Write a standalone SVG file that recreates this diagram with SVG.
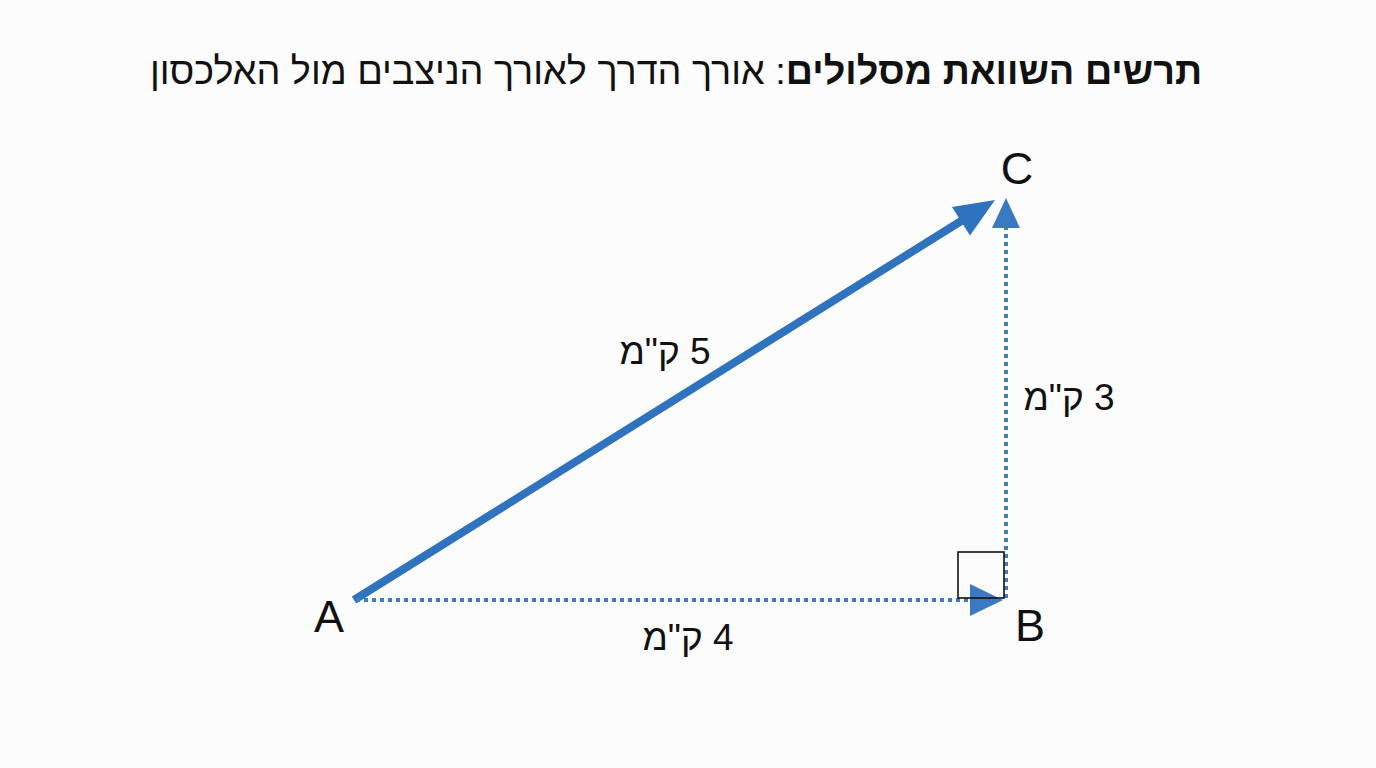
<svg xmlns="http://www.w3.org/2000/svg" width="1376" height="768" viewBox="0 0 1376 768">
<defs>
<style>
.lbl{font-family:"Liberation Sans",Arial,sans-serif;fill:#111;}
.pt{font-size:45px;text-anchor:middle;}
.km{font-size:37px;text-anchor:middle;}
.dot{stroke:#3f7cc2;stroke-width:4;stroke-dasharray:4 4;fill:none;}
.head{fill:#3a78c2;}
</style>
</defs>
<rect width="1376" height="768" fill="#fcfcfc"/>
<g id="title">
<text class="lbl" x="676" y="84" font-size="37.8" text-anchor="middle" direction="rtl"><tspan font-weight="bold">תרשים השוואת מסלולים</tspan>: אורך הדרך לאורך הניצבים מול האלכסון</text>
</g>
<g id="connectors">
<g id="hyp">
<line x1="354" y1="600" x2="966" y2="218" stroke="#2f72be" stroke-width="8"/>
<polygon points="995,200 952,207 970,235.6" fill="#2f72be"/>
</g>
<g id="leg-bc">
<line class="dot" x1="1006" y1="598" x2="1006" y2="228"/>
<polygon class="head" points="1006,198 992,228 1020,228"/>
</g>
<g id="leg-ab">
<line class="dot" x1="356" y1="600" x2="972" y2="600"/>
<polygon class="head" points="1003,600 970,584 970,616"/>
</g>
</g>
<g id="right-angle">
<rect x="958" y="552" width="46" height="46" fill="none" stroke="#111" stroke-width="1.6"/>
</g>
<g id="node-A"><text class="lbl pt" x="329" y="632">A</text></g>
<g id="node-B"><text class="lbl pt" x="1030" y="641">B</text></g>
<g id="node-C"><text class="lbl pt" x="1017" y="184">C</text></g>
<g id="label-ac"><text class="lbl km" x="665" y="364" direction="rtl">5 ק"מ</text></g>
<g id="label-bc"><text class="lbl km" x="1069" y="410" direction="rtl">3 ק"מ</text></g>
<g id="label-ab"><text class="lbl km" x="688" y="650" direction="rtl">4 ק"מ</text></g>
</svg>
